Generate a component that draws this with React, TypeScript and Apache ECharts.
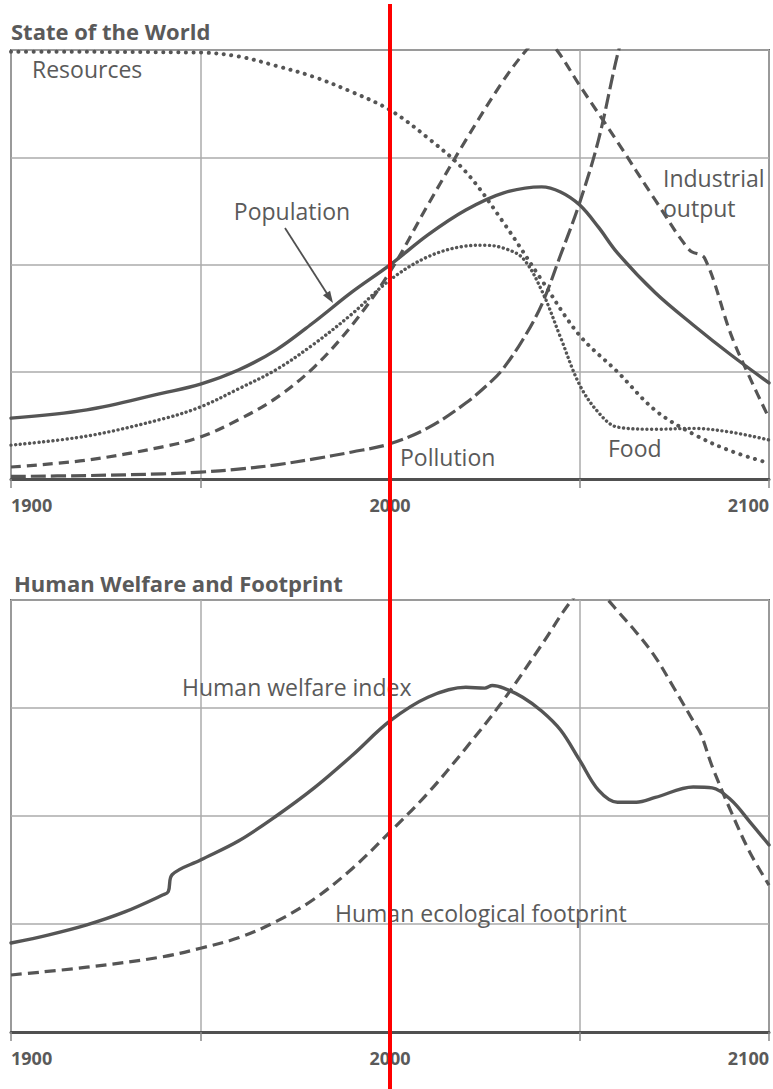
import React, { useEffect, useRef } from "react";
import * as echarts from "echarts";

// ---------- data (years / index values, 0..100 scale of each panel) ----------
const shownYearLabels = [1900, 2000, 2100];

const resourcesYears = [1900, 1950, 1960, 1970, 1980, 1990, 2000, 2010, 2020, 2030, 2040, 2050, 2060, 2070, 2080, 2090, 2100];
const resourcesValues = [99.6, 99.4, 98.5, 96.3, 93.7, 90.2, 86, 79.5, 71.6, 59.7, 46.4, 33.5, 25, 16, 10.5, 6.5, 3.7];

const populationYears = [1900, 1920, 1940, 1950, 1960, 1970, 1980, 1990, 2000, 2010, 2020, 2030, 2040, 2045, 2050, 2055, 2060, 2070, 2080, 2090, 2100];
const populationValues = [14.2, 16.1, 20, 22.1, 25.4, 30.1, 36.6, 43.6, 49.9, 56.9, 62.7, 66.7, 68.1, 66.9, 63.9, 58.7, 52.7, 43.4, 35.9, 28.9, 22.4];

const foodYears = [1900, 1920, 1940, 1950, 1960, 1970, 1980, 1990, 2000, 2010, 2020, 2025, 2030, 2035, 2040, 2045, 2050, 2055, 2060, 2070, 2080, 2090, 2100];
const foodValues = [7.9, 10, 14, 16.8, 21, 25.5, 31.5, 38.5, 46.4, 51.8, 54.3, 54.5, 53.8, 51.5, 44, 33, 22, 15.5, 12.1, 11.6, 11.8, 10.9, 9.1];

const industryYears = [1900, 1920, 1940, 1950, 1960, 1970, 1980, 1990, 2000, 2010, 2020, 2030, 2036, 2040, 2044, 2050, 2060, 2070, 2079, 2083, 2090, 2095, 2100];
const industryValues = [2.8, 4.4, 7.5, 9.8, 13.8, 18.9, 26.1, 35.9, 48.3, 63.9, 79, 93, 100, 103.5, 100, 91.8, 78.6, 65, 53.4, 51.5, 33.6, 23.5, 14.2];

const pollutionYears = [1900, 1920, 1940, 1950, 1960, 1970, 1980, 1990, 2000, 2010, 2020, 2027, 2030, 2035, 2040, 2045, 2050, 2055, 2060, 2063];
const pollutionValues = [0.6, 0.8, 1.2, 1.6, 2.3, 3.3, 4.7, 6.3, 8.2, 11.9, 17.7, 23, 25.9, 32.4, 40.6, 52.2, 64.3, 79, 98.8, 108];

const welfareYears = [1900, 1910, 1920, 1930, 1940, 1941.5, 1942.5, 1950, 1960, 1970, 1980, 1990, 2000, 2010, 2020, 2025, 2027, 2030, 2035, 2040, 2045, 2050, 2055, 2060, 2065, 2070, 2080, 2085, 2090, 2095, 2100];
const welfareValues = [20.6, 22.5, 24.8, 27.8, 31.7, 32.5, 36.4, 39.8, 44.2, 50, 56.5, 64, 72, 77.5, 79.8, 79.6, 80.2, 79.6, 77.5, 74.3, 69.9, 63, 56, 53.2, 53.2, 54.3, 56.7, 56.5, 53.7, 48.6, 43.3];

const footprintYears = [1900, 1920, 1940, 1950, 1960, 1970, 1980, 1990, 2000, 2010, 2020, 2030, 2040, 2048, 2053, 2057, 2060, 2065, 2070, 2075, 2080, 2082, 2085, 2090, 2095, 2100];
const footprintValues = [13.2, 15, 17.4, 19.4, 21.8, 25.6, 30.8, 37.8, 46.3, 55.3, 65.7, 76.9, 89.6, 100, 104, 100.5, 97.5, 92.5, 86.8, 79.5, 72, 69, 61.5, 51, 41.5, 34];

const markerYear = 2000;

// ---------- styling ----------
const FONT = "'Open Sans', 'Noto Sans', sans-serif";
const INK = "#555555";
const TEXT = "#5a5a5a";

const zip = (xs: number[], ys: number[]) => xs.map((x, i) => [x, ys[i]]);

function lineSeries(name: string, grid: number, xs: number[], ys: number[], type: any, width: number, cap: string) {
  return {
    name,
    type: "line",
    xAxisIndex: grid,
    yAxisIndex: grid,
    data: zip(xs, ys),
    showSymbol: false,
    symbol: "none",
    smooth: 0.35,
    clip: true,
    silent: true,
    lineStyle: { color: INK, width, type, cap, join: "round" },
    z: 3,
  };
}

function xAxis(grid: number) {
  return {
    type: "value",
    gridIndex: grid,
    min: 1900,
    max: 2100,
    interval: 50,
    axisLine: { show: true, onZero: false, lineStyle: { color: "#505050", width: 3 } },
    axisTick: { show: true, length: 9, lineStyle: { color: "#888", width: 1.5 } },
    axisLabel: {
      formatter: (v: number) => (shownYearLabels.includes(v) ? String(v) : ""),
      margin: 17,
      color: TEXT,
      fontSize: 18,
      fontWeight: "bold",
      fontFamily: FONT,
      alignMinLabel: "left",
      alignMaxLabel: "right",
    },
    splitLine: { show: true, lineStyle: { color: "#ababab", width: 1.5 } },
  };
}

function yAxis(grid: number) {
  return {
    type: "value",
    gridIndex: grid,
    min: 0,
    max: 100,
    interval: 25,
    axisLine: { show: false },
    axisTick: { show: false },
    axisLabel: { show: false },
    splitLine: { show: true, lineStyle: { color: "#ababab", width: 1.5 } },
  };
}

function label(text: string, x: number, y: number, opts: any = {}) {
  return {
    type: "text",
    x,
    y,
    z: 50,
    style: {
      text,
      fill: TEXT,
      fontSize: opts.fontSize ?? 23,
      fontWeight: opts.fontWeight ?? "normal",
      fontFamily: FONT,
      align: opts.align ?? "left",
      verticalAlign: "middle",
    },
  };
}

export default function App() {
  const ref = useRef<HTMLDivElement>(null);

  useEffect(() => {
    if (!ref.current) return;
    const chart = echarts.init(ref.current, undefined, { renderer: "svg" });

    const option: any = {
      animation: false,
      backgroundColor: "#ffffff",
      grid: [
        { left: 11, top: 50, width: 758, height: 429, show: true, borderColor: "#6a6a6a", borderWidth: 2 },
        { left: 11, top: 600, width: 758, height: 432, show: true, borderColor: "#6a6a6a", borderWidth: 2 },
      ],
      xAxis: [xAxis(0), xAxis(1)],
      yAxis: [yAxis(0), yAxis(1)],
      series: [
        lineSeries("Resources", 0, resourcesYears, resourcesValues, [0.1, 7.5], 4, "round"),
        lineSeries("Food", 0, foodYears, foodValues, [0.1, 4.6], 3.4, "round"),
        lineSeries("Industrial output", 0, industryYears, industryValues, [10, 6], 3.2, "butt"),
        lineSeries("Pollution", 0, pollutionYears, pollutionValues, [15, 5], 3.2, "butt"),
        lineSeries("Population", 0, populationYears, populationValues, "solid", 3.4, "round"),
        lineSeries("Human welfare index", 1, welfareYears, welfareValues, "solid", 3.4, "round"),
        lineSeries("Human ecological footprint", 1, footprintYears, footprintValues, [11, 6], 3.2, "butt"),
      ],
    };
    chart.setOption(option);

    const markX = chart.convertToPixel({ xAxisIndex: 0 }, markerYear) as number;

    // arrow from the Population label to the curve
    const ax1 = 285, ay1 = 228, ax2 = 333, ay2 = 303;
    const len = Math.hypot(ax2 - ax1, ay2 - ay1);
    const ux = (ax2 - ax1) / len, uy = (ay2 - ay1) / len;
    const hl = 12, hw = 4.2;
    const bx = ax2 - ux * hl, by = ay2 - uy * hl;

    chart.setOption({
      graphic: [
        label("State of the World", 11, 31, { fontSize: 22, fontWeight: "bold" }),
        label("Human Welfare and Footprint", 14, 583, { fontSize: 22, fontWeight: "bold" }),
        label("Resources", 32, 69),
        label("Industrial", 663, 178),
        label("output", 663, 208),
        label("Population", 292, 211, { align: "center" }),
        label("Pollution", 400, 457),
        label("Food", 608, 448),
        label("Human welfare index", 182, 687),
        label("Human ecological footprint", 335, 913),
        {
          type: "line",
          z: 50,
          shape: { x1: ax1, y1: ay1, x2: bx + ux * 2, y2: by + uy * 2 },
          style: { stroke: "#505050", lineWidth: 1.8 },
        },
        {
          type: "polygon",
          z: 50,
          shape: {
            points: [
              [ax2, ay2],
              [bx - uy * hw, by + ux * hw],
              [bx + uy * hw, by - ux * hw],
            ],
          },
          style: { fill: "#505050" },
        },
        {
          type: "rect",
          z: 100,
          shape: { x: markX - 2, y: 4, width: 4, height: 1085 },
          style: { fill: "#ff0000" },
        },
      ],
    });

    return () => chart.dispose();
  }, []);

  return (
    <div
      ref={ref}
      style={{ position: "absolute", left: 0, top: 0, width: 773, height: 1089, background: "#fff" }}
    />
  );
}
